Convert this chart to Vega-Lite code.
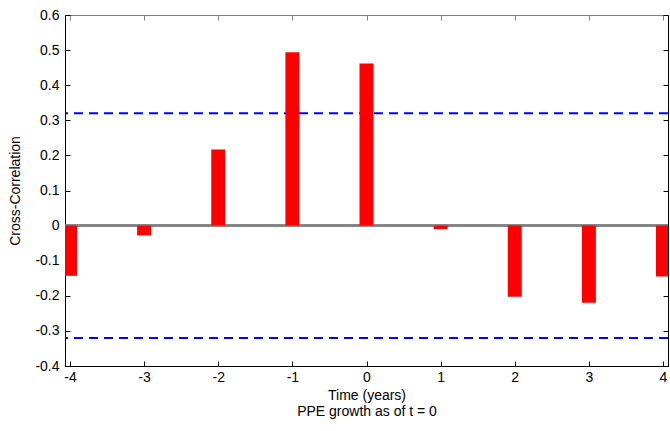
{
  "$schema": "https://vega.github.io/schema/vega-lite/v6.json",
  "autosize": "none",
  "width": 603,
  "height": 351,
  "padding": {"left": 65, "top": 15, "right": 2, "bottom": 65},
  "background": "white",
  "config": {
    "view": {"stroke": "#000000", "strokeWidth": 1},
    "axis": {
      "labelFont": "Liberation Sans",
      "titleFont": "Liberation Sans",
      "labelFontSize": 14,
      "titleFontSize": 14,
      "titleFontWeight": "normal",
      "labelColor": "#000000",
      "titleColor": "#000000",
      "grid": false,
      "domainColor": "#000000",
      "tickColor": "#000000"
    }
  },
  "data": {
    "values": [
      {"lag": -4, "corr": -0.143},
      {"lag": -3, "corr": -0.028},
      {"lag": -2, "corr": 0.217},
      {"lag": -1, "corr": 0.494},
      {"lag": 0, "corr": 0.462},
      {"lag": 1, "corr": -0.01},
      {"lag": 2, "corr": -0.203},
      {"lag": 3, "corr": -0.22},
      {"lag": 4, "corr": -0.145}
    ]
  },
  "resolve": {"axis": {"x": "independent", "y": "independent"}},
  "layer": [
    {
      "mark": {"type": "rule", "color": "#808080", "strokeWidth": 1.5},
      "encoding": {
        "y": {
          "datum": 0,
          "type": "quantitative",
          "scale": {"domain": [-0.4, 0.6], "nice": false, "zero": false},
          "axis": {
            "orient": "left",
            "values": [-0.4, -0.3, -0.2, -0.1, 0, 0.1, 0.2, 0.3, 0.4, 0.5, 0.6],
            "labelExpr": "replace(format(datum.value, '.1~f'), '\u2212', '-')",
            "tickSize": -5,
            "labelPadding": 11,
            "title": "Cross-Correlation",
            "titlePadding": 12
          }
        }
      }
    },
    {
      "data": {"values": [{"lvl": 0.32}, {"lvl": -0.32}]},
      "mark": {"type": "rule", "color": "#0000ff", "strokeWidth": 2, "strokeDash": [9, 6]},
      "encoding": {
        "y": {"field": "lvl", "type": "quantitative", "axis": null}
      }
    },
    {
      "mark": {"type": "bar", "color": "#ff0000", "size": 14, "clip": true},
      "encoding": {
        "x": {
          "field": "lag",
          "type": "quantitative",
          "scale": {"domain": [-4, 4], "nice": false},
          "axis": {
            "orient": "bottom",
            "values": [-4, -3, -2, -1, 0, 1, 2, 3, 4],
            "labelExpr": "replace(format(datum.value, 'd'), '\u2212', '-')",
            "tickSize": -5,
            "labelPadding": 9,
            "title": ["Time (years)", "PPE growth as of t = 0"],
            "titlePadding": 4,
            "titleLineHeight": 16
          }
        },
        "y": {"field": "corr", "type": "quantitative", "axis": null}
      }
    },
    {
      "data": {"values": [{"lag": 0, "corr": 0}]},
      "mark": {"type": "point", "opacity": 0},
      "encoding": {
        "x": {
          "field": "lag",
          "type": "quantitative",
          "axis": {
            "orient": "top",
            "values": [-4, -3, -2, -1, 0, 1, 2, 3, 4],
            "labels": false,
            "tickSize": -5,
            "domainColor": "#808080",
            "tickColor": "#808080",
            "title": null
          }
        },
        "y": {
          "field": "corr",
          "type": "quantitative",
          "axis": {
            "orient": "right",
            "values": [-0.4, -0.3, -0.2, -0.1, 0, 0.1, 0.2, 0.3, 0.4, 0.5, 0.6],
            "labels": false,
            "tickSize": -5,
            "title": null
          }
        }
      }
    }
  ]
}
